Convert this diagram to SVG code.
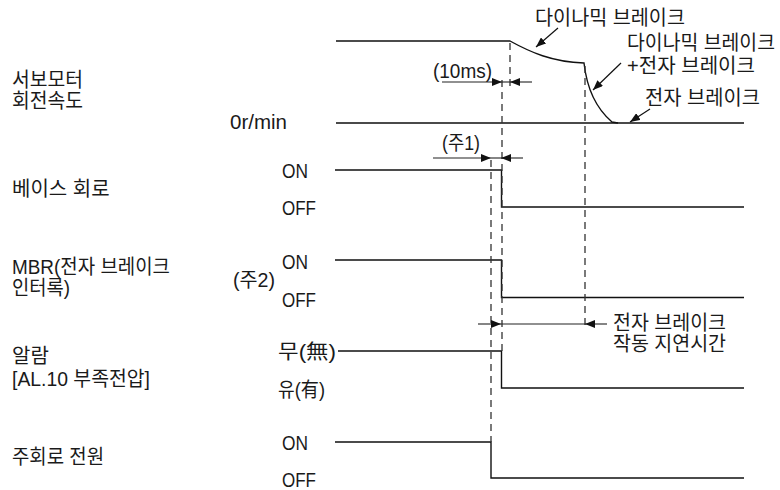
<svg xmlns="http://www.w3.org/2000/svg" width="780" height="490" viewBox="0 0 780 490">
<style>
  text { font-family: "Liberation Sans", "Noto Sans CJK KR", sans-serif; font-size: 20px; fill: #1a1a1a; }
  .sig { fill: none; stroke: #111; stroke-width: 1.4; }
  .zero { fill: none; stroke: #4a4a4a; stroke-width: 2.2; }
  .dash { fill: none; stroke: #333; stroke-width: 1.3; stroke-dasharray: 7 5; }
  .dim { fill: none; stroke: #222; stroke-width: 1.1; }
  .lead { fill: none; stroke: #111; stroke-width: 1.2; }
</style>
<defs>
  <marker id="ah" markerUnits="userSpaceOnUse" markerWidth="10" markerHeight="8" refX="10" refY="4" orient="auto">
    <path d="M0,0 L10,4 L0,8 z" fill="#111"/>
  </marker>
</defs>
<rect width="780" height="490" fill="#fff"/>

<g id="speed-label">
  <text x="12" y="87" textLength="71" lengthAdjust="spacingAndGlyphs">서보모터</text>
  <text x="12" y="108" textLength="71" lengthAdjust="spacingAndGlyphs">회전속도</text>
  <text x="230" y="129" textLength="57" lengthAdjust="spacingAndGlyphs">0r/min</text>
</g>
<g id="speed-notes">
  <text x="535" y="25" textLength="150" lengthAdjust="spacingAndGlyphs">다이나믹 브레이크</text>
  <text x="627" y="50" textLength="148" lengthAdjust="spacingAndGlyphs">다이나믹 브레이크</text>
  <text x="627" y="73" textLength="128" lengthAdjust="spacingAndGlyphs">+전자 브레이크</text>
  <text x="645" y="105" textLength="115" lengthAdjust="spacingAndGlyphs">전자 브레이크</text>
  <text x="433" y="78" textLength="59" lengthAdjust="spacingAndGlyphs">(10ms)</text>
  <text x="442" y="150" textLength="38" lengthAdjust="spacingAndGlyphs">(주1)</text>
</g>
<g id="base-label">
  <text x="12" y="196">베이스 회로</text>
  <text x="282" y="178" textLength="26" lengthAdjust="spacingAndGlyphs">ON</text>
  <text x="282" y="215" textLength="34" lengthAdjust="spacingAndGlyphs">OFF</text>
</g>
<g id="mbr-label">
  <text x="12" y="274" textLength="158" lengthAdjust="spacingAndGlyphs">MBR(전자 브레이크</text>
  <text x="12" y="295" textLength="58" lengthAdjust="spacingAndGlyphs">인터록)</text>
  <text x="233" y="287" textLength="42" lengthAdjust="spacingAndGlyphs">(주2)</text>
  <text x="282" y="269" textLength="26" lengthAdjust="spacingAndGlyphs">ON</text>
  <text x="282" y="307" textLength="34" lengthAdjust="spacingAndGlyphs">OFF</text>
</g>
<g id="alarm-label">
  <text x="12" y="363">알람</text>
  <text x="12" y="386" textLength="138" lengthAdjust="spacingAndGlyphs">[AL.10 부족전압]</text>
  <text x="278" y="359" textLength="58" lengthAdjust="spacingAndGlyphs">무(無)</text>
  <text x="278" y="397" textLength="47" lengthAdjust="spacingAndGlyphs">유(有)</text>
</g>
<g id="main-label">
  <text x="12" y="464" textLength="92" lengthAdjust="spacingAndGlyphs">주회로 전원</text>
  <text x="282" y="450" textLength="26" lengthAdjust="spacingAndGlyphs">ON</text>
  <text x="282" y="487" textLength="34" lengthAdjust="spacingAndGlyphs">OFF</text>
</g>
<g id="delay-label">
  <text x="613" y="330" textLength="113" lengthAdjust="spacingAndGlyphs">전자 브레이크</text>
  <text x="613" y="351" textLength="113" lengthAdjust="spacingAndGlyphs">작동 지연시간</text>
</g>

<g id="connectors">
  <!-- speed waveform -->
  <line class="zero" x1="336" y1="123" x2="744" y2="123"/>
  <path class="sig" d="M336,41 H510 C530,52 552,62 584,63 C587,90 598,110 612,122 L618,123"/>
  <!-- base circuit -->
  <path class="sig" d="M335,170 H501.5 V207 H744"/>
  <!-- MBR -->
  <path class="sig" d="M335,260 H501.5 V297.5 H744"/>
  <!-- alarm -->
  <path class="sig" d="M338,351 H501.5 V388 H744"/>
  <!-- main circuit -->
  <path class="sig" d="M335,442 H491 V478 H744"/>
  <!-- dashed guides -->
  <line class="dash" x1="510" y1="43" x2="510" y2="86"/>
  <line class="dash" x1="502" y1="80" x2="502" y2="351"/>
  <line class="dash" x1="491" y1="160" x2="491" y2="442"/>
  <line class="dash" x1="585" y1="66" x2="585" y2="326"/>
  <!-- 10ms dimension -->
  <path class="dim" d="M442,82 H502" marker-end="url(#ah)"/>
  <path class="dim" d="M532,82 H510" marker-end="url(#ah)"/>
  <path class="dim" d="M502,82 H510"/>
  <!-- note 1 dimension -->
  <path class="dim" d="M433,158 H491" marker-end="url(#ah)"/>
  <path class="dim" d="M523,158 H501" marker-end="url(#ah)"/>
  <path class="dim" d="M491,158 H501"/>
  <!-- brake delay dimension -->
  <path class="dim" d="M478,324 H501" marker-end="url(#ah)"/>
  <path class="dim" d="M607,324 H585" marker-end="url(#ah)"/>
  <path class="dim" d="M501,324 H585"/>
  <!-- leaders -->
  <path class="lead" d="M558,28 L536,47" marker-end="url(#ah)"/>
  <path class="lead" d="M621,63 L593,90" marker-end="url(#ah)"/>
  <path class="lead" d="M650,109 L630,122" marker-end="url(#ah)"/>
</g>
</svg>
